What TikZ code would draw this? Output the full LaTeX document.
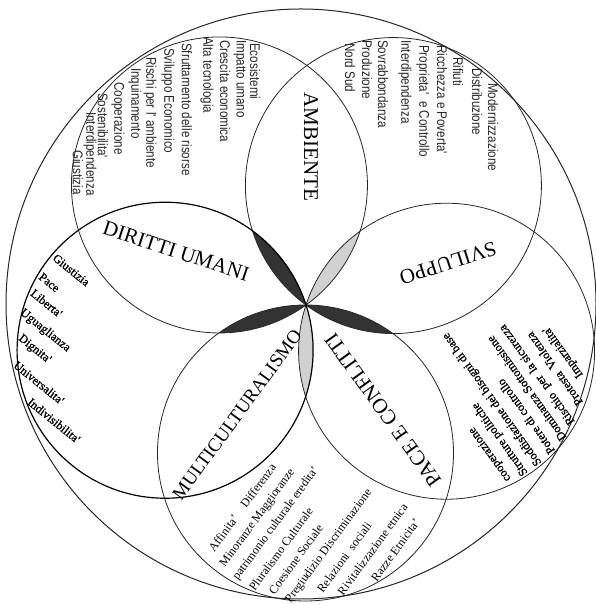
\documentclass[tikz,border=0pt]{standalone}
\usepackage{fontspec}
\setmainfont{Liberation Serif}
\newfontfamily\narrowsans[FakeStretch=0.83]{Liberation Sans}
\newfontfamily\inkserif[FakeBold=1]{Liberation Serif}
\usetikzlibrary{calc}
\begin{document}
\begin{tikzpicture}[x=1pt,y=1pt,
  ring/.style={draw=black!85,line width=0.8pt},
  heavyring/.style={draw=black,line width=1.2pt},
  title/.style={font=\fontsize{21}{24}\selectfont,inner sep=0pt},
  colword/.style={font=\narrowsans\fontsize{14}{16}\selectfont,text=black!85,inner sep=0pt,anchor=west,rotate=-90},
  rowword/.style={font=\fontsize{12}{14}\selectfont,inner sep=0pt,anchor=west},
  inkword/.style={font=\inkserif\fontsize{12}{14}\selectfont,inner sep=0pt,anchor=west},
  darklens/.style={fill=black!80},
  lightlens/.style={fill=black!18}]
\useasboundingbox (0,0) rectangle (595,604);

% common point of the five theme circles and their centres
\coordinate (O) at (306,299);
\coordinate (cA) at ($(O)+(125.8:148)$);
\coordinate (cB) at ($(O)+(53.8:148)$);
\coordinate (cC) at ($(O)+(-18.2:148)$);
\coordinate (cD) at ($(O)+(-90.2:148)$);
\coordinate (cE) at ($(O)+(197.8:148)$);
\coordinate (cOut) at (301,300);

% small lenses where non-neighbouring circles overlap
\begin{scope}\clip (cE) circle (148); \fill[darklens] (cB) circle (148);\end{scope}
\begin{scope}\clip (cA) circle (148); \fill[lightlens] (cC) circle (148);\end{scope}
\begin{scope}\clip (cB) circle (148); \fill[darklens] (cD) circle (148);\end{scope}
\begin{scope}\clip (cC) circle (148); \fill[lightlens] (cE) circle (148);\end{scope}
\begin{scope}\clip (cD) circle (148); \fill[darklens] (cA) circle (148);\end{scope}

% circles
\draw[ring,line width=1pt] (cOut) circle (295);
\draw[ring] (cA) circle (148);
\draw[ring] (cB) circle (148);
\draw[ring] (cC) circle (148);
\draw[ring] (cD) circle (148);
\draw[heavyring] (cE) circle (148);

% theme titles
\node[title,rotate=-90] (tAmb) at (311,457) {AMBIENTE};
\node[title,rotate=-18.2] (tDir) at (176,353) {DIRITTI UMANI};
\node[title,rotate=197.8] (tSvi) at (448,341) {SVILUPPO};
\node[title,rotate=125.8] (tPac) at (383,194) {PACE E CONFLITTI};
\node[title,rotate=53.8,font=\fontsize{19}{22}\selectfont] (tMul) at (237,189) {MULTICULTURALISMO};

% upper left word columns
\node[colword] (a1) at (255,561) {Ecosistemi};
\node[colword] (a2) at (240,564) {Impatto umano};
\node[colword] (a3) at (225,564) {Crescita economica};
\node[colword] (a4) at (207,567) {Alta tecnologia};
\node[colword] (a5) at (187,561) {Sfruttamento delle risorse};
\node[colword] (a6) at (168,556) {Sviluppo Economico};
\node[colword] (a7) at (150,547) {Rischi per l' ambiente};
\node[colword] (a8) at (135,536) {Inquinamento};
\node[colword] (a9) at (118,522) {Cooperazione};
\node[colword] (a10) at (103,511) {Sostenibilita'};
\node[colword] (a11) at (90,492) {Interdipendenza};
\node[colword] (a12) at (78,454) {Giustizia};

% upper right word columns
\node[colword] (b1) at (493,521) {Modernizzazione};
\node[colword] (b2) at (477,536) {Distribuzione};
\node[colword] (b3) at (458,547) {Rifiuti};
\node[colword] (b4) at (442,559) {Ricchezza e Poverta'};
\node[colword] (b5) at (423,559) {Proprieta'\ \ e Controllo};
\node[colword] (b6) at (405,564) {Interdipendenza};
\node[colword] (b7) at (383,564) {Sovrabbondanza};
\node[colword] (b8) at (367,564) {Produzione};
\node[colword] (b9) at (350,561) {Nord Sud};

% left word rows
\node[inkword,rotate=-39,anchor=north west] (e1) at (57,351) {Giustizia};
\node[inkword,rotate=-39,anchor=north west] (e2) at (43,332) {Pace};
\node[inkword,rotate=-39,anchor=north west] (e3) at (35,316) {Liberta'};
\node[inkword,rotate=-39,anchor=north west] (e4) at (25,297) {Uguaglianza};
\node[inkword,rotate=-39,anchor=north west] (e5) at (23,271) {Dignita'};
\node[inkword,rotate=-39,anchor=north west] (e6) at (18,244) {Universalita'};
\node[inkword,rotate=-39,anchor=north west] (e7) at (32,207) {Indivisibilita'};

% lower right word rows
\begin{scope}[shift={(O)},rotate=125.8,transform shape]
  \node[inkword] (c1) at (-261,-62) {cooperazione};
  \node[inkword] (c2) at (-266,-79) {Strutture politiche};
  \node[inkword] (c3) at (-266,-96) {Soddisfazione dei bisogni di base};
  \node[inkword] (c4) at (-264,-113) {Potere di controllo};
  \node[inkword] (c5) at (-260,-130) {Dominanza Sottomissione};
  \node[inkword] (c6) at (-252,-147) {Rischio\ \ per\ \ la sicurezza};
  \node[inkword] (c7) at (-241,-164) {Protesta\ \ Violenza};
  \node[inkword] (c8) at (-219,-181) {Imparzialita'};
\end{scope}

% lower word rows
\begin{scope}[shift={(O)},rotate=53.8,transform shape]
  \node[rowword] (d1) at (-254,-68) {Affinita'};
  \node[rowword] (d1b) at (-200,-68) {Differenza};
  \node[rowword] (d2) at (-260,-87) {Minoranze Maggioranze};
  \node[rowword] (d3) at (-263,-105) {patrimonio culturale eredita'};
  \node[rowword] (d4) at (-262,-124) {Pluralismo Culturale};
  \node[rowword] (d5) at (-253,-142) {Coesione Sociale};
  \node[rowword] (d6) at (-250,-161) {Pregiudizio Discriminazione};
  \node[rowword] (d7) at (-223,-180) {Relazioni\ \ sociali};
  \node[rowword] (d8) at (-213,-198) {Rivitalizzazione etnica};
  \node[rowword] (d9) at (-182,-217) {Razze Etnicita'};
\end{scope}
\end{tikzpicture}
\end{document}
